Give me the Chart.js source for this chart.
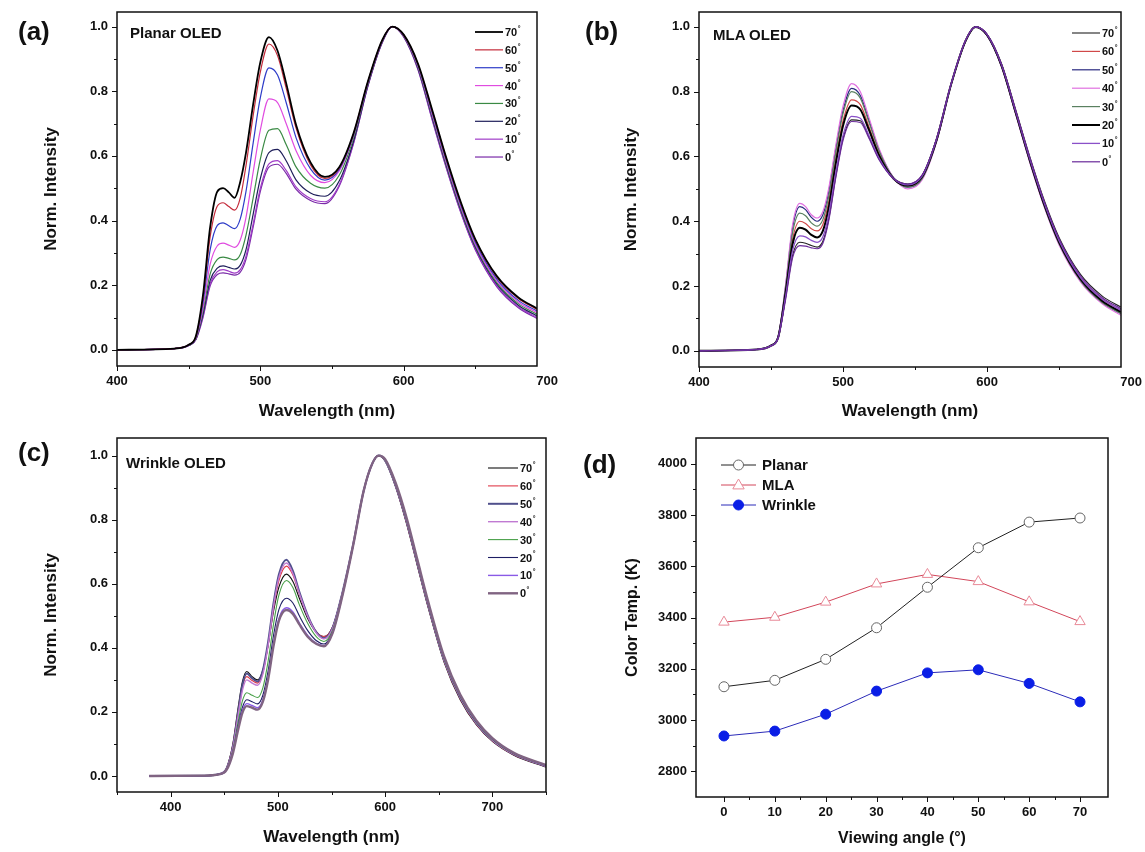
<!DOCTYPE html>
<html>
<head>
<meta charset="utf-8">
<script src="https://cdn.jsdelivr.net/npm/chart.js@4.4.1/dist/chart.umd.min.js"></script>
<style>
  html, body { margin: 0; padding: 0; background: #fff; }
  #fig { position: relative; width: 1145px; height: 852px; overflow: hidden; background: #fff; }
  .panel { position: absolute; }
  .tag { position: absolute; font: bold 26px "Liberation Sans", Arial, sans-serif; color: #111; line-height: 1; }
  .inner { position: absolute; font: bold 15px "Liberation Sans", Arial, sans-serif; color: #111; line-height: 1; white-space: nowrap; }
</style>
</head>
<body>
<div id="fig">
  <div class="panel" style="left:0;top:0;width:570px;height:426px"><canvas id="chartA"></canvas></div>
  <div class="panel" style="left:570px;top:0;width:575px;height:426px"><canvas id="chartB"></canvas></div>
  <div class="panel" style="left:0;top:426px;width:570px;height:426px"><canvas id="chartC"></canvas></div>
  <div class="panel" style="left:570px;top:426px;width:575px;height:426px"><canvas id="chartD"></canvas></div>
  <div class="tag" style="left:18px;top:18px">(a)</div>
  <div class="tag" style="left:585px;top:18px">(b)</div>
  <div class="tag" style="left:18px;top:439px">(c)</div>
  <div class="tag" style="left:583px;top:451px">(d)</div>
  <div class="inner" style="left:130px;top:25px">Planar OLED</div>
  <div class="inner" style="left:713px;top:27px">MLA OLED</div>
  <div class="inner" style="left:126px;top:455px">Wrinkle OLED</div>
</div>
<script>
// wavelength grids (nm)
const WL_AB = [400, 440, 450, 455, 460, 465, 470, 474, 478, 482, 486, 490, 495, 500, 506, 512, 518, 525, 535, 545,
  555, 565, 575, 585, 592, 600, 610, 620, 630, 640, 650, 665, 680, 693];
const WL_C = [380, 430, 445, 452, 458, 463, 467, 471, 476, 481, 486, 491, 496, 501, 508, 514, 520, 528, 536, 543,
  551, 560, 570, 580, 588, 594, 600, 610, 620, 630, 640, 655, 670, 685, 700, 720, 750];

const ANGLE_LABELS = ['70', '60', '50', '40', '30', '20', '10', '0'];

// (a) Planar OLED
const PLANAR_70 = [0, .004, .016, .042, .17, .38, .49, .50, .487, .47, .52, .61, .76, .89, .967, .925, .825, .695, .58, .535, .565, .67, .83, .958, 1.0, .975, .885, .74, .59, .455, .342, .228, .162, .128];
const PLANAR_60 = [0, .004, .016, .04, .16, .35, .445, .455, .443, .432, .47, .57, .725, .86, .946, .91, .81, .685, .572, .53, .562, .668, .829, .957, 1.0, .974, .883, .737, .587, .452, .339, .225, .159, .125];
const PLANAR_50 = [0, .004, .015, .038, .145, .31, .385, .393, .384, .375, .405, .49, .64, .78, .872, .85, .765, .655, .56, .525, .558, .665, .827, .956, 1.0, .973, .88, .732, .582, .446, .333, .219, .153, .12];
const PLANAR_40 = [0, .004, .015, .036, .13, .265, .322, .33, .324, .317, .34, .41, .55, .68, .776, .765, .70, .615, .54, .517, .553, .662, .825, .955, 1.0, .972, .877, .727, .576, .44, .327, .213, .148, .115];
const PLANAR_30 = [0, .004, .014, .034, .12, .235, .28, .287, .283, .278, .295, .355, .47, .59, .679, .684, .635, .565, .515, .50, .54, .655, .822, .954, 1.0, .971, .874, .722, .571, .435, .322, .208, .143, .11];
const PLANAR_20 = [0, .004, .014, .033, .11, .215, .253, .26, .255, .25, .262, .31, .42, .53, .61, .62, .585, .525, .485, .475, .522, .645, .818, .952, 1.0, .970, .871, .717, .566, .43, .317, .203, .138, .105];
const PLANAR_10 = [0, .004, .013, .032, .105, .205, .242, .248, .243, .237, .248, .29, .39, .50, .575, .585, .555, .503, .468, .458, .51, .64, .816, .951, 1.0, .969, .868, .712, .561, .425, .312, .198, .133, .10];
const PLANAR_0 = [0, .004, .013, .031, .10, .198, .233, .238, .235, .231, .24, .28, .38, .49, .565, .574, .546, .496, .462, .452, .506, .638, .815, .95, 1.0, .968, .866, .709, .558, .422, .309, .195, .13, .097];

// (b) MLA OLED
const MLA_70 = [0, .004, .016, .04, .16, .295, .335, .332, .325, .32, .338, .405, .54, .655, .713, .71, .66, .593, .533, .515, .543, .656, .824, .958, 1.0, .977, .887, .743, .595, .461, .35, .235, .169, .135];
const MLA_60 = [0, .004, .016, .043, .18, .345, .40, .393, .377, .37, .39, .458, .593, .71, .775, .76, .692, .608, .532, .508, .536, .651, .822, .956, 1.0, .975, .882, .736, .587, .452, .34, .225, .159, .125];
const MLA_50 = [0, .004, .017, .045, .195, .38, .445, .436, .412, .40, .42, .49, .625, .742, .81, .788, .712, .62, .535, .505, .532, .648, .821, .955, 1.0, .974, .879, .731, .58, .444, .331, .216, .149, .115];
const MLA_40 = [0, .004, .017, .045, .2, .39, .455, .445, .42, .41, .43, .5, .635, .755, .825, .8, .72, .625, .535, .50, .528, .645, .82, .955, 1.0, .973, .877, .728, .576, .44, .327, .212, .145, .11];
const MLA_30 = [0, .004, .017, .044, .19, .365, .425, .417, .395, .385, .405, .475, .612, .732, .80, .78, .706, .617, .534, .505, .532, .648, .821, .955, 1.0, .974, .879, .731, .58, .444, .331, .216, .149, .115];
const MLA_20 = [0, .004, .016, .042, .175, .33, .38, .374, .358, .35, .37, .44, .578, .695, .757, .745, .682, .603, .532, .51, .538, .652, .822, .956, 1.0, .975, .881, .734, .584, .448, .336, .221, .154, .12];
const MLA_10 = [0, .004, .016, .041, .165, .31, .355, .352, .341, .335, .352, .42, .552, .665, .724, .718, .665, .595, .532, .512, .54, .654, .823, .957, 1.0, .976, .883, .737, .587, .452, .34, .225, .159, .125];
const MLA_0 = [0, .004, .015, .04, .155, .288, .325, .323, .318, .315, .332, .40, .535, .65, .708, .705, .656, .59, .532, .515, .543, .656, .824, .958, 1.0, .977, .885, .74, .592, .457, .346, .231, .164, .13];

// (c) Wrinkle OLED
const WRINKLE_70 = [0, .001, .006, .024, .1, .215, .295, .326, .31, .30, .33, .41, .515, .59, .63, .607, .555, .49, .448, .435, .465, .57, .72, .89, .975, 1.0, .983, .9, .787, .657, .527, .355, .238, .16, .108, .065, .028];
const WRINKLE_60 = [0, .001, .006, .023, .095, .205, .28, .31, .298, .29, .322, .41, .525, .61, .655, .627, .568, .497, .45, .435, .465, .57, .72, .89, .975, 1.0, .984, .902, .79, .66, .53, .358, .241, .162, .11, .066, .029];
const WRINKLE_50 = [0, .001, .006, .022, .09, .2, .285, .32, .305, .295, .33, .42, .54, .63, .675, .64, .575, .50, .448, .43, .462, .57, .72, .89, .975, 1.0, .985, .905, .795, .665, .535, .362, .245, .165, .112, .068, .03];
const WRINKLE_40 = [0, .001, .006, .022, .088, .19, .268, .30, .29, .283, .318, .41, .53, .62, .665, .632, .57, .497, .446, .428, .46, .568, .72, .89, .975, 1.0, .985, .905, .795, .665, .535, .362, .245, .165, .112, .068, .03];
const WRINKLE_30 = [0, .001, .005, .02, .08, .17, .235, .26, .252, .245, .275, .36, .475, .565, .61, .588, .535, .475, .434, .42, .455, .565, .718, .89, .975, 1.0, .986, .907, .797, .667, .537, .364, .247, .167, .114, .069, .031];
const WRINKLE_20 = [0, .001, .005, .019, .075, .158, .215, .238, .232, .225, .252, .33, .44, .52, .555, .54, .50, .453, .422, .412, .45, .562, .717, .89, .975, 1.0, .987, .909, .80, .67, .54, .367, .249, .169, .115, .07, .032];
const WRINKLE_10 = [0, .001, .005, .018, .072, .15, .205, .226, .22, .213, .238, .31, .415, .492, .525, .512, .478, .438, .414, .407, .447, .56, .716, .89, .975, 1.0, .988, .911, .803, .673, .543, .37, .252, .171, .117, .071, .033];
const WRINKLE_0 = [0, .001, .005, .018, .07, .145, .198, .218, .213, .207, .232, .303, .407, .485, .518, .506, .473, .434, .412, .405, .446, .56, .716, .89, .975, 1.0, .989, .913, .806, .676, .546, .373, .254, .173, .118, .072, .034];

// (d) colour temperature vs viewing angle
const VIEW_ANGLE = [0, 10, 20, 30, 40, 50, 60, 70];
const CT_PLANAR = [3130, 3155, 3237, 3360, 3518, 3672, 3772, 3788];
const CT_MLA = [3382, 3401, 3460, 3531, 3568, 3540, 3461, 3384];
const CT_WRINKLE = [2938, 2957, 3023, 3113, 3184, 3196, 3143, 3071];

// tick positions and labels
const SPEC_Y_MAJOR = [0, 0.2, 0.4, 0.6, 0.8, 1.0];
const SPEC_Y_MINOR = [0.1, 0.3, 0.5, 0.7, 0.9];
const AB_X_MAJOR = [400, 500, 600, 700];
const AB_X_MINOR = [450, 550, 650];
const C_X_MAJOR = [400, 500, 600, 700];
const C_X_MINOR = [350, 450, 550, 650, 750];
const CT_Y_MAJOR = [2800, 3000, 3200, 3400, 3600, 3800, 4000];
const CT_Y_MINOR = [2900, 3100, 3300, 3500, 3700, 3900];
const CT_X_MAJOR = [0, 10, 20, 30, 40, 50, 60, 70];
const CT_X_MINOR = [5, 15, 25, 35, 45, 55, 65];

const FONT_FAMILY = '"Liberation Sans", Arial, sans-serif';
const tickFont = { family: FONT_FAMILY, size: 13, weight: 'bold' };
const ink = '#111';

function setTicks(values) {
  return function (scale) {
    scale.ticks = values.map(v => ({ value: v }));
  };
}

// box around the plot plus outward tick marks (major longer than minor)
function boxPlugin(xMajor, xMinor, yMajor, yMinor) {
  return {
    id: 'box',
    afterDraw(chart) {
      const { ctx, chartArea: a, scales: { x, y } } = chart;
      ctx.save();
      ctx.strokeStyle = ink;
      ctx.lineWidth = 1;
      ctx.beginPath();
      function xTick(v, len) {
        if (v < x.min || v > x.max) { return; }
        const p = Math.round(x.getPixelForValue(v)) + 0.5;
        ctx.moveTo(p, a.bottom);
        ctx.lineTo(p, a.bottom + len);
      }
      function yTick(v, len) {
        if (v < y.min || v > y.max) { return; }
        const p = Math.round(y.getPixelForValue(v)) + 0.5;
        ctx.moveTo(a.left, p);
        ctx.lineTo(a.left - len, p);
      }
      xMajor.forEach(v => xTick(v, 5));
      xMinor.forEach(v => xTick(v, 3));
      yMajor.forEach(v => yTick(v, 5));
      yMinor.forEach(v => yTick(v, 3));
      ctx.stroke();
      ctx.lineWidth = 1.5;
      ctx.strokeRect(a.left, a.top, a.right - a.left, a.bottom - a.top);
      ctx.restore();
    }
  };
}

function angleLegend(cfg) {
  return {
    id: 'angleLegend',
    afterDraw(chart) {
      const ctx = chart.ctx;
      ctx.save();
      chart.data.datasets.forEach(function (ds, i) {
        const yy = cfg.y0 + i * cfg.step;
        ctx.strokeStyle = ds.borderColor;
        ctx.lineWidth = ds.borderWidth;
        ctx.beginPath();
        ctx.moveTo(cfg.x0, yy);
        ctx.lineTo(cfg.x1, yy);
        ctx.stroke();
        ctx.fillStyle = ink;
        ctx.textAlign = 'left';
        ctx.textBaseline = 'middle';
        ctx.font = 'bold 11px ' + FONT_FAMILY;
        ctx.fillText(ANGLE_LABELS[i], cfg.x1 + 2, yy + 1);
        const w = ctx.measureText(ANGLE_LABELS[i]).width;
        ctx.font = 'bold 7px ' + FONT_FAMILY;
        ctx.fillText('°', cfg.x1 + 2.5 + w, yy - 3);
      });
      ctx.restore();
    }
  };
}

function spectrumChart(id, wl, series, colors, widths, cfg) {
  const n = series.length;
  return new Chart(document.getElementById(id), {
    type: 'line',
    data: {
      datasets: series.map((ys, i) => ({
        label: ANGLE_LABELS[i] + '°',
        data: ys.map((y, j) => ({ x: wl[j], y: y })),
        borderColor: colors[i],
        borderWidth: widths[i],
        pointRadius: 0,
        fill: false,
        cubicInterpolationMode: 'monotone',
        order: cfg.zeroOnTop ? n - i : i
      }))
    },
    options: {
      responsive: true,
      maintainAspectRatio: false,
      animation: false,
      events: [],
      layout: { padding: cfg.padding },
      plugins: { legend: { display: false }, tooltip: { enabled: false } },
      scales: {
        x: {
          type: 'linear',
          min: cfg.xMin,
          max: cfg.xMax,
          afterBuildTicks: setTicks(cfg.xMajor),
          afterFit: function (scale) { scale.height = cfg.xHeight; },
          grid: { display: false, drawTicks: true, tickLength: 5 },
          border: { display: false },
          ticks: { autoSkip: false, maxRotation: 0, font: tickFont, color: ink, padding: 3,
            callback: v => String(v) },
          title: { display: true, text: 'Wavelength (nm)', color: ink,
            font: { family: FONT_FAMILY, size: 17, weight: 'bold' } }
        },
        y: {
          min: -0.05,
          max: cfg.yMax,
          afterBuildTicks: setTicks(SPEC_Y_MAJOR),
          afterFit: function (scale) { scale.width = cfg.yWidth; },
          grid: { display: false, drawTicks: true, tickLength: 5 },
          border: { display: false },
          ticks: { autoSkip: false, font: tickFont, color: ink, padding: 4,
            callback: v => v.toFixed(1) },
          title: { display: true, text: 'Norm. Intensity', color: ink,
            font: { family: FONT_FAMILY, size: 17, weight: 'bold' } }
        }
      }
    },
    plugins: [boxPlugin(cfg.xMajor, cfg.xMinor, SPEC_Y_MAJOR, SPEC_Y_MINOR), angleLegend(cfg.legend)]
  });
}

spectrumChart('chartA', WL_AB,
  [PLANAR_70, PLANAR_60, PLANAR_50, PLANAR_40, PLANAR_30, PLANAR_20, PLANAR_10, PLANAR_0],
  ['#000000', '#c42a3a', '#2d3cc8', '#e04ce0', '#3a8a44', '#1e1e5a', '#a03cc8', '#7a2aa8'],
  [1.8, 1.2, 1.2, 1.2, 1.2, 1.2, 1.2, 1.2],
  { padding: { left: 37, top: 12, right: 33, bottom: 0 }, yWidth: 80, xHeight: 60,
    xMin: 400, xMax: 693, yMax: 1.045, xMajor: AB_X_MAJOR, xMinor: AB_X_MINOR, zeroOnTop: false,
    legend: { x0: 475, x1: 503, y0: 32, step: 17.86 } });

spectrumChart('chartB', WL_AB,
  [MLA_70, MLA_60, MLA_50, MLA_40, MLA_30, MLA_20, MLA_10, MLA_0],
  ['#222222', '#d04848', '#2a2a80', '#e070e0', '#5a8060', '#000000', '#8a50c8', '#6a2a9a'],
  [1.1, 1.2, 1.2, 1.2, 1.2, 2, 1.3, 1.2],
  { padding: { left: 47, top: 12, right: 24, bottom: 0 }, yWidth: 82, xHeight: 59,
    xMin: 400, xMax: 693, yMax: 1.046, xMajor: AB_X_MAJOR, xMinor: AB_X_MINOR, zeroOnTop: true,
    legend: { x0: 502, x1: 530, y0: 33, step: 18.4 } });

spectrumChart('chartC', WL_C,
  [WRINKLE_70, WRINKLE_60, WRINKLE_50, WRINKLE_40, WRINKLE_30, WRINKLE_20, WRINKLE_10, WRINKLE_0],
  ['#111111', '#e03a4a', '#50508c', '#c07ad2', '#48a048', '#1e1e64', '#8a5ae6', '#806482'],
  [1.1, 1.1, 2, 1.4, 1.1, 1.1, 1.4, 2.4],
  { padding: { left: 37, top: 12, right: 24, bottom: 0 }, yWidth: 80, xHeight: 60,
    xMin: 350, xMax: 750, yMax: 1.055, xMajor: C_X_MAJOR, xMinor: C_X_MINOR, zeroOnTop: true,
    legend: { x0: 488, x1: 518, y0: 42, step: 17.9 } });

// (d) legend with line + marker
const ctLegend = {
  id: 'ctLegend',
  afterDraw(chart) {
    const ctx = chart.ctx;
    ctx.save();
    chart.data.datasets.forEach(function (ds, i) {
      const yy = 39 + i * 20;
      const x0 = 151, x1 = 186, cx = 168.5;
      ctx.strokeStyle = ds.borderColor;
      ctx.lineWidth = 1;
      ctx.beginPath();
      ctx.moveTo(x0, yy);
      ctx.lineTo(x1, yy);
      ctx.stroke();
      ctx.fillStyle = ds.pointBackgroundColor;
      ctx.strokeStyle = ds.pointBorderColor;
      ctx.beginPath();
      if (ds.pointStyle === 'triangle') {
        const r = ds.pointRadius;
        ctx.moveTo(cx, yy - r);
        ctx.lineTo(cx + r * 0.95, yy + r * 0.65);
        ctx.lineTo(cx - r * 0.95, yy + r * 0.65);
        ctx.closePath();
      } else {
        ctx.arc(cx, yy, ds.pointRadius, 0, Math.PI * 2);
      }
      ctx.fill();
      ctx.stroke();
      ctx.fillStyle = ink;
      ctx.font = 'bold 15px ' + FONT_FAMILY;
      ctx.textAlign = 'left';
      ctx.textBaseline = 'middle';
      ctx.fillText(ds.label, 192, yy + 1);
    });
    ctx.restore();
  }
};

function ctPoints(values) {
  return values.map((v, i) => ({ x: VIEW_ANGLE[i], y: v }));
}

new Chart(document.getElementById('chartD'), {
  type: 'line',
  data: {
    datasets: [
      { label: 'Planar', data: ctPoints(CT_PLANAR), borderColor: '#222222', borderWidth: 1,
        pointStyle: 'circle', pointRadius: 5, pointBackgroundColor: '#ffffff', pointBorderColor: '#666666', pointBorderWidth: 1 },
      { label: 'MLA', data: ctPoints(CT_MLA), borderColor: '#d2465a', borderWidth: 1,
        pointStyle: 'triangle', pointRadius: 6, pointBackgroundColor: '#ffffff', pointBorderColor: '#e88a98', pointBorderWidth: 1 },
      { label: 'Wrinkle', data: ctPoints(CT_WRINKLE), borderColor: '#2b2bb8', borderWidth: 1,
        pointStyle: 'circle', pointRadius: 5, pointBackgroundColor: '#0a1ee6', pointBorderColor: '#0a1ee6', pointBorderWidth: 1 }
    ]
  },
  options: {
    responsive: true,
    maintainAspectRatio: false,
    animation: false,
    events: [],
    layout: { padding: { left: 49, top: 12, right: 37, bottom: 0 } },
    plugins: { legend: { display: false }, tooltip: { enabled: false } },
    scales: {
      x: {
        type: 'linear',
        min: -5.5,
        max: 75.5,
        afterBuildTicks: setTicks(CT_X_MAJOR),
        afterFit: function (scale) { scale.height = 55; },
        grid: { display: false, drawTicks: true, tickLength: 5 },
        border: { display: false },
        ticks: { autoSkip: false, maxRotation: 0, font: tickFont, color: ink, padding: 3 },
        title: { display: true, text: 'Viewing angle (°)', color: ink,
          font: { family: FONT_FAMILY, size: 16, weight: 'bold' } }
      },
      y: {
        min: 2700,
        max: 4100,
        afterBuildTicks: setTicks(CT_Y_MAJOR),
        afterFit: function (scale) { scale.width = 77; },
        grid: { display: false, drawTicks: true, tickLength: 5 },
        border: { display: false },
        ticks: { autoSkip: false, font: tickFont, color: ink, padding: 4, callback: v => String(v) },
        title: { display: true, text: 'Color Temp. (K)', color: ink,
          font: { family: FONT_FAMILY, size: 16, weight: 'bold' } }
      }
    }
  },
  plugins: [boxPlugin(CT_X_MAJOR, CT_X_MINOR, CT_Y_MAJOR, CT_Y_MINOR), ctLegend]
});
</script>
</body>
</html>
